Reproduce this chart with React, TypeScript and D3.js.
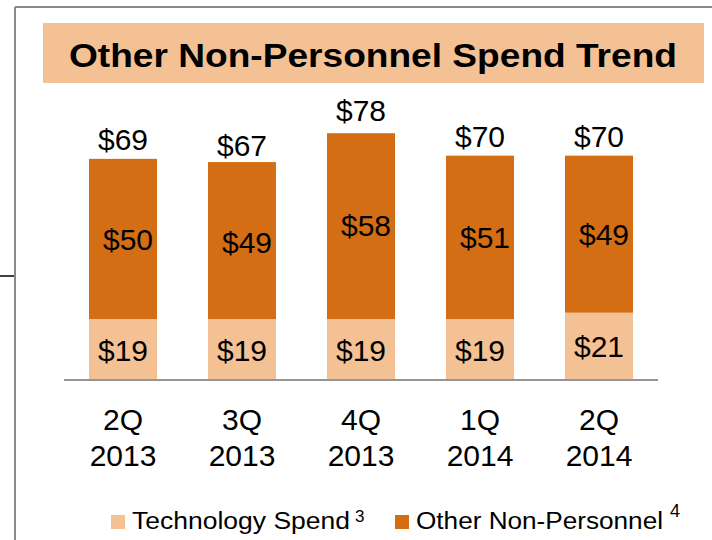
import * as d3 from 'd3';

const quarters = ['2Q', '3Q', '4Q', '1Q', '2Q'];
const years = ['2013', '2013', '2013', '2014', '2014'];
const techSpend = [19, 19, 19, 19, 21];
const otherSpend = [50, 49, 58, 51, 49];
const totals = [69, 67, 78, 70, 70];

const LIGHT = '#F4C195';
const DARK = '#D46E15';
const FONT = '"Liberation Sans", Arial, sans-serif';

const App = () => {
  const width = 712;
  const height = 540;
  const baseline = 380;
  const keys = quarters.map((q, i) => `${q}-${years[i]}`);

  const xScale = d3
    .scaleBand<string>()
    .domain(keys)
    .range([64, 658])
    .paddingInner(51 / 119)
    .paddingOuter(25 / 119);

  const yScale = d3.scaleLinear().domain([0, 78]).range([baseline, 130]);

  const stackData = keys.map((k, i) => ({ key: k, tech: techSpend[i], other: otherSpend[i] }));
  const series = d3.stack<{ key: string; tech: number; other: number }>().keys(['tech', 'other'])(stackData);

  return (
    <svg
      width={width}
      height={height}
      viewBox={`0 0 ${width} ${height}`}
      style={{ position: 'absolute', left: 0, top: 0, fontFamily: FONT }}
    >
      <rect x={0} y={0} width={width} height={height} fill="#fff" />
      {/* slide frame */}
      <line x1={15} y1={7} x2={width} y2={7} stroke="#8a8a8a" strokeWidth={2} />
      <line x1={15} y1={7} x2={15} y2={height} stroke="#8a8a8a" strokeWidth={2} />
      <line x1={0} y1={276} x2={14} y2={276} stroke="#000" strokeWidth={1.5} />

      <rect x={43} y={23} width={661} height={60} fill={LIGHT} />
      <text
        x={373}
        y={67}
        textAnchor="middle"
        fontSize={33}
        fontWeight="bold"
        textLength={608}
        lengthAdjust="spacingAndGlyphs"
      >
        Other Non-Personnel Spend Trend
      </text>

      {series.map(s => (
        <g key={s.key} fill={s.key === 'tech' ? LIGHT : DARK}>
          {s.map((d, i) => (
            <rect
              key={i}
              x={xScale(keys[i])}
              y={yScale(d[1])}
              width={xScale.bandwidth()}
              height={yScale(d[0]) - yScale(d[1])}
            />
          ))}
        </g>
      ))}

      <line x1={64} y1={baseline} x2={658} y2={baseline} stroke="#959595" strokeWidth={2} />

      {keys.map((k, i) => {
        const cx = (xScale(k) || 0) + xScale.bandwidth() / 2;
        const techMid = (yScale(0) + yScale(techSpend[i])) / 2;
        const otherMid = (yScale(techSpend[i]) + yScale(totals[i])) / 2;
        return (
          <g key={k} fontSize={30} textAnchor="middle" fill="#000">
            <text x={cx} y={yScale(totals[i]) - 9}>${totals[i]}</text>
            <text x={cx + 5} y={otherMid + 11}>${otherSpend[i]}</text>
            <text x={cx} y={techMid + 11}>${techSpend[i]}</text>
            <text x={cx} y={430}>{quarters[i]}</text>
            <text x={cx} y={466}>{years[i]}</text>
          </g>
        );
      })}

      {/* legend */}
      <rect x={111} y={515} width={14} height={14} fill={LIGHT} />
      <text x={132} y={529} fontSize={23} textLength={218} lengthAdjust="spacingAndGlyphs">
        Technology Spend
      </text>
      <text x={355} y={522} fontSize={17}>3</text>
      <rect x={395} y={515} width={14} height={14} fill={DARK} />
      <text x={416} y={529} fontSize={23} textLength={247} lengthAdjust="spacingAndGlyphs">
        Other Non-Personnel
      </text>
      <text x={670} y={517} fontSize={18}>4</text>
    </svg>
  );
};

export default App;
